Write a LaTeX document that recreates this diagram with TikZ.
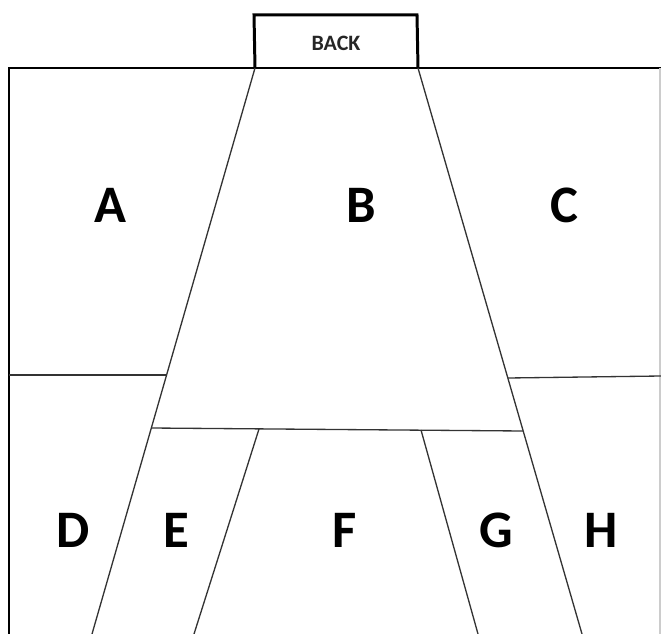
\documentclass[tikz,border=0pt]{standalone}
\usepackage{fontspec}
\setmainfont{Carlito}
\usetikzlibrary{positioning}
\definecolor{lineagray}{rgb}{0.2,0.2,0.2}
\definecolor{bordegray}{rgb}{0.8,0.8,0.8}
\tikzset{
  marco/.style={
    line width=1.7pt,
    draw=black
  },
  linea/.style={
    line width=0.75pt,
    draw=lineagray
  },
  zona/.style={
    font=\fontsize{30}{30}\selectfont\bfseries,
    inner sep=0pt
  },
  fondo/.style={
    font=\fontsize{12.5}{12.5}\selectfont\bfseries,
    text=black!85,
    inner sep=0pt
  }
}
\begin{document}
\begin{tikzpicture}[x=0.02cm,y=-0.02cm]
\useasboundingbox (0,0) rectangle (661,634);
% puntos del trapecio
\coordinate (tl) at (255,68);
\coordinate (tr) at (418,68);
\coordinate (bl) at (92,634);
\coordinate (br) at (582,634);
\coordinate (ad) at (166,375);
\coordinate (ch) at (508,378);
\coordinate (bfl) at (151,428);
\coordinate (bfr) at (523,431);
\coordinate (ef) at (259,429);
\coordinate (fg) at (421,430);
% marco
\draw[marco] (9,634) -- (9,68) -- (661,68);
\draw[line width=0.6pt, bordegray] (660,68) -- (660,634);
\draw[marco] (tl) -- (254,15) -- (417,15) -- (tr);
\node[fondo] (back) at (336,43) {BACK};
% divisiones
\draw[linea] (tl) -- (bl);
\draw[linea] (tr) -- (br);
\draw[linea] (9,375) -- (ad);
\draw[linea] (ch) -- (661,376);
\draw[linea] (bfl) -- (bfr);
\draw[linea] (ef) -- (194,634);
\draw[linea] (fg) -- (478,634);
% zonas
\node[zona] (a) at (110,205) {A};
\node[zona] (b) at (361,205) {B};
\node[zona] (c) at (564,205) {C};
\node[zona] (d) at (73,530) {D};
\node[zona] (e) at (176,530) {E};
\node[zona] (f) at (345,530) {F};
\node[zona] (g) at (496,530) {G};
\node[zona] (h) at (601,530) {H};
\end{tikzpicture}
\end{document}
